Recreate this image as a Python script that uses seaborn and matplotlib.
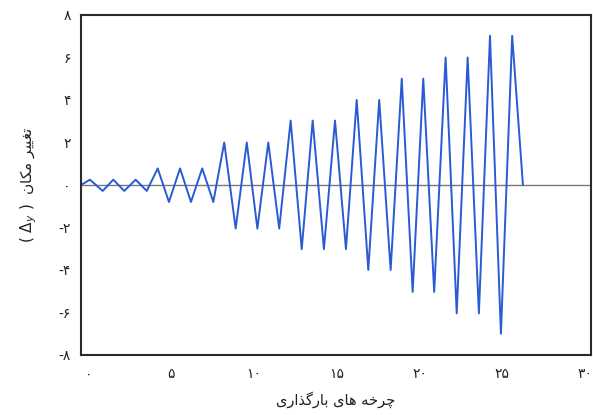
import matplotlib
matplotlib.use("Agg")
import matplotlib.pyplot as plt
import seaborn as sns
import pandas as pd

# ---- data ----
cycle_x = [-0.44, 0.10, 0.87, 1.51, 2.17, 2.86, 3.53, 4.19, 4.87, 5.54, 6.20,
           6.88, 7.55, 8.21, 8.90, 9.57, 10.21, 10.87, 11.53, 12.22, 12.89,
           13.55, 14.23, 14.90, 15.56, 16.21, 16.91, 17.57, 18.26, 18.93,
           19.59, 20.23, 20.89, 21.58, 22.25, 22.91, 23.59, 24.26, 24.92,
           25.60, 26.25]
displacement = [0, 0.25, -0.28, 0.25, -0.28, 0.25, -0.28, 0.78, -0.8, 0.78,
                -0.8, 0.78, -0.8, 2.0, -2.05, 2.0, -2.05, 2.0, -2.05, 3.03,
                -3.02, 3.03, -3.02, 3.03, -3.02, 4.0, -4.0, 4.0, -4.0, 5.0,
                -5.03, 5.0, -5.03, 6.0, -6.04, 6.0, -6.04, 7.02, -7.0, 7.02, 0]
x_ticks = [0, 5, 10, 15, 20, 25, 30]
x_tick_labels = ["۰", "۵", "۱۰", "۱۵", "۲۰", "۲۵", "۳۰"]
y_ticks = [8, 6, 4, 2, 0, -2, -4, -6, -8]
y_tick_labels = ["۸", "۶", "۴", "۲", "۰", "-۲", "-۴", "-۶", "-۸"]
x_label_text = "چرخه های بارگذاری"
y_label_text = "تغییر مکان"

# ---- minimal Persian shaping (presentation forms + visual order) ----
FORMS = {  # isolated, final, initial, medial
    "ا": ("\uFE8D", "\uFE8E", None, None),
    "ب": ("\uFE8F", "\uFE90", "\uFE91", "\uFE92"),
    "ت": ("\uFE95", "\uFE96", "\uFE97", "\uFE98"),
    "خ": ("\uFEA5", "\uFEA6", "\uFEA7", "\uFEA8"),
    "ذ": ("\uFEAB", "\uFEAC", None, None),
    "ر": ("\uFEAD", "\uFEAE", None, None),
    "غ": ("\uFECD", "\uFECE", "\uFECF", "\uFED0"),
    "م": ("\uFEE1", "\uFEE2", "\uFEE3", "\uFEE4"),
    "ن": ("\uFEE5", "\uFEE6", "\uFEE7", "\uFEE8"),
    "ه": ("\uFEE9", "\uFEEA", "\uFEEB", "\uFEEC"),
    "چ": ("\uFB7A", "\uFB7B", "\uFB7C", "\uFB7D"),
    "ک": ("\uFB8E", "\uFB8F", "\uFB90", "\uFB91"),
    "گ": ("\uFB92", "\uFB93", "\uFB94", "\uFB95"),
    "ی": ("\uFBFC", "\uFBFD", "\uFBFE", "\uFBFF"),
}


def dual(c):
    return c in FORMS and FORMS[c][2] is not None


def shape(text):
    out = []
    for i, c in enumerate(text):
        if c not in FORMS:
            out.append(c)
            continue
        prev = text[i - 1] if i > 0 else ""
        nxt = text[i + 1] if i + 1 < len(text) else ""
        jp = dual(prev)
        jn = dual(c) and nxt in FORMS
        f = FORMS[c]
        if jp and jn:
            out.append(f[3])
        elif jp:
            out.append(f[1])
        elif jn:
            out.append(f[2])
        else:
            out.append(f[0])
    return "".join(out)[::-1]


sns.set_style("white")
plt.rcParams["font.family"] = ["DejaVu Sans"]

df = pd.DataFrame({"cycle": cycle_x, "disp": displacement})

fig = plt.figure(figsize=(5.93, 4.15), dpi=100)
ax = fig.add_axes([0.1358, 0.1446, 0.9966 - 0.1358, 0.9639 - 0.1446])

ax.axhline(0, color="#7a7a7a", lw=1.0, zorder=1)
sns.lineplot(data=df, x="cycle", y="disp", sort=False, estimator=None,
             color="#2a5ad4", lw=1.4, ax=ax, zorder=2)

ax.set_xlim(-0.47, 30.36)
ax.set_ylim(-8, 8)
ax.set_xticks(x_ticks)
ax.set_xticklabels(x_tick_labels, fontsize=10, color="#222222")
ax.set_yticks(y_ticks)
ax.set_yticklabels(y_tick_labels, fontsize=10, color="#222222")
ax.tick_params(axis="both", length=0)
ax.tick_params(axis="x", pad=9)
ax.tick_params(axis="y", pad=7)

ax.set_xlabel(shape(x_label_text), fontsize=10.5, labelpad=7, color="#222222")
ax.set_ylabel("( $\\Delta_y$ )  " + shape(y_label_text), fontsize=11,
              labelpad=14, color="#222222")

for s in ax.spines.values():
    s.set_visible(True)
    s.set_color("#2b2b2b")
    s.set_linewidth(1.5)

fig.savefig("out.png", dpi=100)
